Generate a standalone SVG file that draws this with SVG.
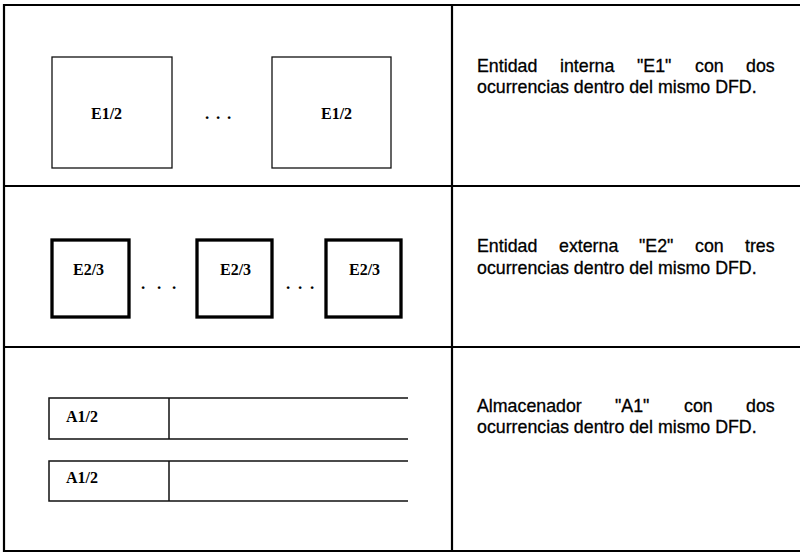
<svg xmlns="http://www.w3.org/2000/svg" width="800" height="552" viewBox="0 0 800 552">
<style>
.frame{fill:none;stroke:#000;stroke-width:2.2}
.thin{fill:#fff;stroke:#111;stroke-width:1.3}
.thick{fill:#fff;stroke:#000;stroke-width:3.3}
.store{fill:none;stroke:#111;stroke-width:1.5}
.lbl{font-family:"Liberation Serif","Times New Roman",serif;font-weight:bold;font-size:16px;fill:#000}
.dots{font-family:"Liberation Serif","Times New Roman",serif;font-weight:bold;font-size:17px;fill:#000}
.desc{font-family:"Liberation Sans",Arial,sans-serif;font-size:17.8px;fill:#000;stroke:#000;stroke-width:0.3}
</style>
<rect x="0" y="0" width="800" height="552" fill="#fff"/>
<g id="table">
<path class="frame" d="M4 5H800M4 186H800M4 347H800M4 551H800M4 4V552M452 5V551"/>
</g>
<g id="E1a"><rect class="thin" x="52" y="57" width="120" height="111"/><text class="lbl" x="91" y="119">E1/2</text></g>
<g id="dots1"><text class="dots" x="205 216 227" y="119">...</text></g>
<g id="E1b"><rect class="thin" x="272" y="57" width="119" height="111"/><text class="lbl" x="321" y="119">E1/2</text></g>
<g id="desc1"><text class="desc" y="72"><tspan x="477">Entidad</tspan><tspan x="560">interna</tspan><tspan x="637">"E1"</tspan><tspan x="695">con</tspan><tspan x="746">dos</tspan></text><text class="desc" x="477" y="93">ocurrencias dentro del mismo DFD.</text></g>
<g id="E2a"><rect class="thick" x="52" y="240" width="77" height="77"/><text class="lbl" x="73" y="275">E2/3</text></g>
<g id="dots2"><text class="dots" x="141 157 172" y="289">...</text></g>
<g id="E2b"><rect class="thick" x="197" y="240" width="75" height="77"/><text class="lbl" x="220" y="275">E2/3</text></g>
<g id="dots3"><text class="dots" x="286 298 310" y="289">...</text></g>
<g id="E2c"><rect class="thick" x="326" y="240" width="75" height="77"/><text class="lbl" x="349" y="275">E2/3</text></g>
<g id="desc2"><text class="desc" y="252"><tspan x="477">Entidad</tspan><tspan x="559">externa</tspan><tspan x="639">"E2"</tspan><tspan x="695">con</tspan><tspan x="745">tres</tspan></text><text class="desc" x="477" y="274">ocurrencias dentro del mismo DFD.</text></g>
<g id="A1a"><path class="store" d="M408 398H49V439H408M169 398V439"/><text class="lbl" x="66" y="422">A1/2</text></g>
<g id="A1b"><path class="store" d="M408 461H49V501H408M169 461V501"/><text class="lbl" x="66" y="483">A1/2</text></g>
<g id="desc3"><text class="desc" y="412"><tspan x="477">Almacenador</tspan><tspan x="615">"A1"</tspan><tspan x="684">con</tspan><tspan x="746">dos</tspan></text><text class="desc" x="477" y="433">ocurrencias dentro del mismo DFD.</text></g>
</svg>
